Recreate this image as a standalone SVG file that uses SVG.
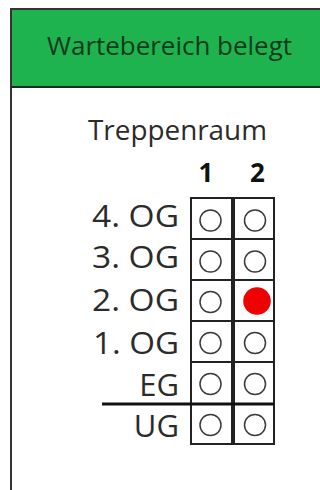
<svg xmlns="http://www.w3.org/2000/svg" width="320" height="490" viewBox="0 0 320 490">
<style>
.lbl{font-family:"Open Sans","Noto Sans","DejaVu Sans",sans-serif;fill:#2b2b2b;}
.row{font-size:31px;text-anchor:end;}
.num{font-size:26px;font-weight:bold;text-anchor:middle;fill:#111;}
.cell{fill:#fff;stroke:#222;stroke-width:2;}
.led{fill:#fff;stroke:#3a3a3a;stroke-width:1.5;}
.on{fill:#f00000;stroke:none;}
</style>
<rect x="0" y="0" width="320" height="490" fill="#fff"/>
<g id="panel">
<rect x="11" y="9" width="330" height="500" fill="#fff" stroke="#333" stroke-width="2"/>
<rect x="12" y="10" width="320" height="77" fill="#1fb34f"/>
<line x1="11" y1="87" x2="320" y2="87" stroke="#1e2a20" stroke-width="2"/>
<text class="lbl" x="169.5" y="55" font-size="26" text-anchor="middle" style="fill:#123a1c" textLength="245" lengthAdjust="spacingAndGlyphs">Wartebereich belegt</text>
</g>
<g id="title">
<text class="lbl" x="177.5" y="140" font-size="28" text-anchor="middle" textLength="179" lengthAdjust="spacingAndGlyphs">Treppenraum</text>
</g>
<g id="columns">
<text class="lbl num" x="206" y="182">1</text>
<text class="lbl num" x="257.5" y="182">2</text>
</g>
<g id="grid">
<rect class="cell" x="191" y="198" width="41" height="246"/>
<rect class="cell" x="234" y="198" width="40" height="246"/>
<g stroke="#222" stroke-width="2">
<line x1="191" y1="239" x2="274" y2="239"/>
<line x1="191" y1="280" x2="274" y2="280"/>
<line x1="191" y1="321" x2="274" y2="321"/>
<line x1="191" y1="362" x2="274" y2="362"/>
</g>
<line x1="233" y1="198" x2="233" y2="444" stroke="#222" stroke-width="2"/>
</g>
<g id="row-4og">
<text class="lbl row" x="179" y="227" textLength="87" lengthAdjust="spacingAndGlyphs">4. OG</text>
<circle class="led" cx="210.5" cy="220.5" r="10.5"/>
<circle class="led" cx="255" cy="220.5" r="10.5"/>
</g>
<g id="row-3og">
<text class="lbl row" x="179" y="268" textLength="87" lengthAdjust="spacingAndGlyphs">3. OG</text>
<circle class="led" cx="210.5" cy="261.5" r="10.5"/>
<circle class="led" cx="255" cy="261.5" r="10.5"/>
</g>
<g id="row-2og">
<text class="lbl row" x="179" y="311" textLength="87" lengthAdjust="spacingAndGlyphs">2. OG</text>
<circle class="led" cx="210.5" cy="302" r="10.5"/>
<circle class="on" cx="257" cy="301" r="13.8"/>
</g>
<g id="row-1og">
<text class="lbl row" x="179" y="354" textLength="86" lengthAdjust="spacingAndGlyphs">1. OG</text>
<circle class="led" cx="210.5" cy="343" r="10.5"/>
<circle class="led" cx="255" cy="343" r="10.5"/>
</g>
<g id="row-eg">
<text class="lbl row" x="179" y="396">EG</text>
<circle class="led" cx="210.5" cy="384" r="10.5"/>
<circle class="led" cx="255" cy="384" r="10.5"/>
</g>
<g id="row-ug">
<text class="lbl row" x="179" y="437">UG</text>
<circle class="led" cx="210.5" cy="425" r="10.5"/>
<circle class="led" cx="255" cy="425" r="10.5"/>
</g>
<g id="connectors">
<line x1="102" y1="404" x2="274" y2="404" stroke="#111" stroke-width="3"/>
</g>
</svg>
